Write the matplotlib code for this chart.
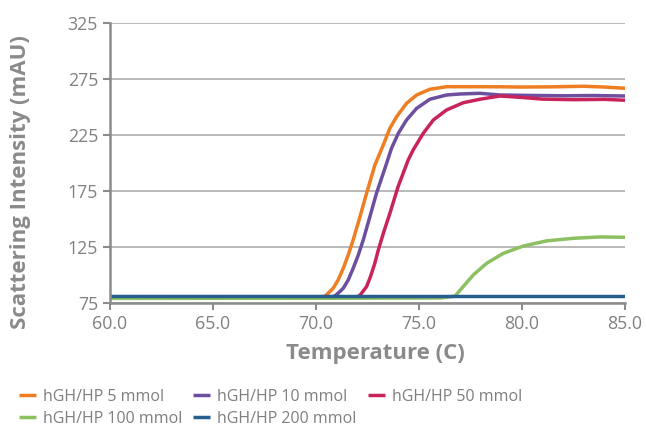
import matplotlib
matplotlib.use("Agg")
import matplotlib.pyplot as plt

plt.rcParams['font.family'] = ['Open Sans', 'DejaVu Sans']

# Data
t_5 = [60.0, 70.3, 70.45, 70.60, 70.84, 71.08, 71.33, 71.57, 71.81, 72.14, 72.46, 72.86, 73.27, 73.59,
       73.92, 74.40, 74.89, 75.53, 76.34, 77.96, 79.0, 80.0, 81.5, 83.0, 84.0, 85.0]
v_5 = [80.5, 80.5, 81.0, 83.7, 88.1, 95.5, 106.0, 117.9, 131.3, 152.0, 172.9, 198.0, 216.0, 231.0,
       241.4, 253.3, 260.7, 265.8, 268.1, 268.1, 268.0, 267.8, 268.0, 268.5, 267.8, 266.7]

t_10 = [60.0, 70.8, 70.95, 71.08, 71.33, 71.57, 71.81, 72.06, 72.30, 72.62, 72.94, 73.35, 73.67, 74.0,
        74.40, 74.89, 75.53, 76.34, 77.0, 77.96, 78.93, 80.5, 82.0, 83.5, 85.0]
v_10 = [80.5, 80.5, 81.5, 83.7, 88.1, 95.5, 106.0, 117.9, 131.3, 152.0, 172.9, 195.2, 213.1, 226.5,
        238.4, 248.8, 256.9, 260.7, 261.6, 262.2, 260.7, 260.3, 260.0, 260.2, 259.8]

t_50 = [60.0, 72.0, 72.12, 72.22, 72.46, 72.65, 72.86, 73.03, 73.27, 73.59, 73.99, 74.48, 74.72, 75.21,
        75.70, 76.34, 77.15, 77.96, 78.93, 80.0, 81.0, 82.5, 84.0, 85.0]
v_50 = [80.5, 80.5, 81.5, 83.7, 89.6, 98.5, 110.4, 122.3, 137.0, 155.0, 178.9, 202.7, 211.6, 226.5,
        238.4, 247.3, 253.8, 256.9, 259.8, 258.5, 257.0, 256.5, 256.8, 256.0]

t_100 = [60.0, 70.0, 76.02, 76.75, 77.15, 77.64, 78.29, 79.10, 80.07, 81.2, 82.5, 83.8, 85.0]
v_100 = [79.0, 79.1, 79.4, 81.0, 89.6, 100.0, 110.4, 119.3, 125.8, 130.4, 132.7, 133.9, 133.6]

t_200 = [60.0, 70.0, 80.0, 85.0]
v_200 = [81.3, 81.3, 81.3, 81.3]

labels = ["hGH/HP 5 mmol", "hGH/HP 10 mmol", "hGH/HP 50 mmol", "hGH/HP 100 mmol", "hGH/HP 200 mmol"]
colors = ["#EF7D22", "#6C4F9E", "#C9245A", "#8CC060", "#265F8E"]

x_ticks = [60.0, 65.0, 70.0, 75.0, 80.0, 85.0]
y_ticks = [75, 125, 175, 225, 275, 325]

fig = plt.figure(figsize=(6.46, 4.26), dpi=100)
ax = fig.add_axes([0.170, 0.289, 0.7975, 0.657])

series = [(t_5, v_5), (t_10, v_10), (t_50, v_50), (t_100, v_100), (t_200, v_200)]
lines = []
for (t, v), lab, c in zip(series, labels, colors):
    ln, = ax.plot(t, v, color=c, lw=2.5, label=lab, solid_capstyle='butt', solid_joinstyle='round')
    lines.append(ln)

ax.set_xlim(60, 85)
ax.set_ylim(75, 325)
ax.set_xticks(x_ticks)
ax.set_xticklabels([f"{x:.1f}" for x in x_ticks])
ax.set_yticks(y_ticks)
ax.set_yticklabels([str(y) for y in y_ticks])
ax.grid(axis='y', color='#b3b3b3', lw=1.3)
ax.set_axisbelow(True)
for s in ['top', 'right']:
    ax.spines[s].set_visible(False)
for s in ['left', 'bottom']:
    ax.spines[s].set_color('#8c8c8c')
    ax.spines[s].set_linewidth(1.8)
ax.tick_params(axis='both', colors='#8c8c8c', width=1.5, length=5, labelsize=12.8, labelcolor='#808080')
ax.tick_params(axis='x', pad=4)
ax.set_xlabel("Temperature (C)", fontsize=16, fontweight='bold', color='#8a8a8a')
ax.set_ylabel("Scattering Intensity (mAU)", fontsize=16, fontweight='bold', color='#8a8a8a')
ax.xaxis.set_label_coords(0.515, -0.145)
ax.yaxis.set_label_coords(-0.153, 0.432)

order = [0, 3, 1, 4, 2]
fig.legend([lines[i] for i in order], [labels[i] for i in order], ncol=3,
           loc='lower left', bbox_to_anchor=(0.012, -0.028), frameon=False, borderpad=0.2,
           fontsize=11.5, labelcolor='#7f7f7f', handlelength=1.05, handletextpad=0.45,
           columnspacing=0.7, labelspacing=0.38)

fig.savefig("out.png", dpi=100)
